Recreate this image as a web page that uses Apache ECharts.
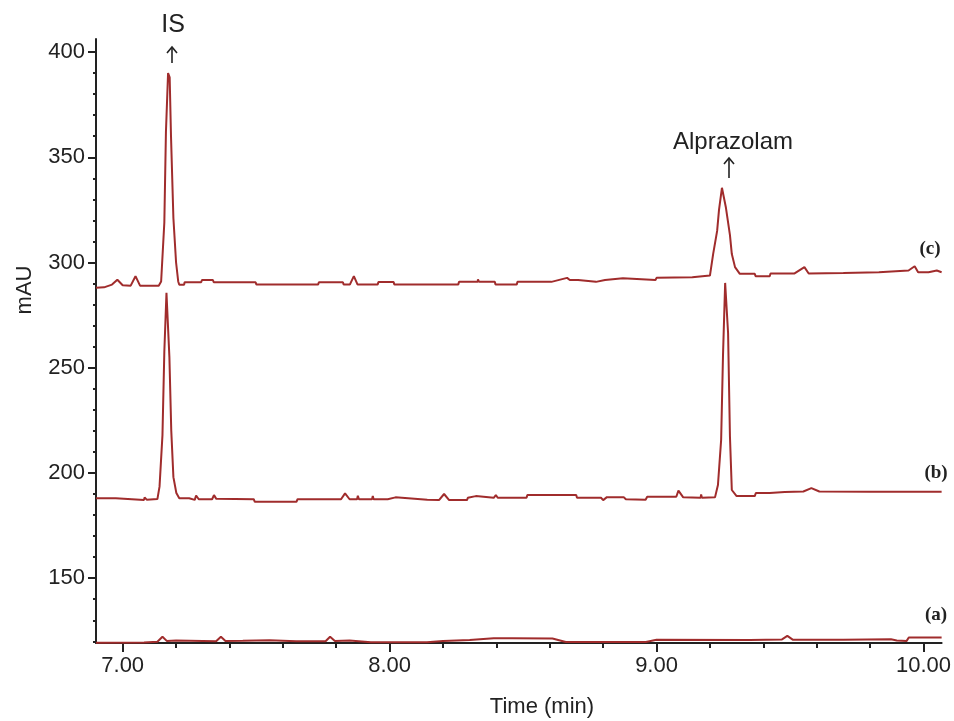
<!DOCTYPE html>
<html>
<head>
<meta charset="utf-8">
<script src="https://cdn.jsdelivr.net/npm/echarts@6/dist/echarts.min.js"></script>
<style>html,body{margin:0;padding:0;background:#fff;}#c{width:954px;height:721px;}</style>
</head>
<body>
<div id="c"></div>
<script>
// ---- data ----
const xMajor = [7, 8, 9, 10];
const xMinor = [7.2, 7.4, 7.6, 7.8, 8.2, 8.4, 8.6, 8.8, 9.2, 9.4, 9.6, 9.8];
const yMajor = [150, 200, 250, 300, 350, 400];
const yMinor = [120, 130, 140, 160, 170, 180, 190, 210, 220, 230, 240, 260, 270, 280, 290, 310, 320, 330, 340, 360, 370, 380, 390];

// trace (a) blank
const tA = [6.90, 7.08, 7.13, 7.149, 7.165, 7.20, 7.25, 7.35, 7.368, 7.385, 7.45, 7.55, 7.65, 7.76, 7.777, 7.795, 7.85, 7.93, 8.14, 8.20, 8.30, 8.39, 8.46, 8.61, 8.66, 8.96, 9.00, 9.35, 9.47, 9.49, 9.51, 9.70, 9.878, 9.90, 9.937, 9.945, 10.068];
const vA = [119.3, 119.4, 119.8, 122.2, 120.2, 120.4, 120.3, 120.0, 122.2, 120.2, 120.3, 120.5, 120.0, 120.0, 122.2, 120.2, 120.4, 119.6, 119.6, 120.2, 120.6, 121.4, 121.5, 121.3, 119.7, 119.7, 120.7, 120.6, 120.9, 122.6, 120.8, 120.7, 121.0, 120.4, 120.2, 121.8, 121.8];

// trace (b)
const tB = [6.90, 6.974, 6.98, 7.08, 7.082, 7.09, 7.13, 7.138, 7.149, 7.156, 7.164, 7.175, 7.182, 7.190, 7.201, 7.212, 7.249, 7.255, 7.270, 7.275, 7.285, 7.335, 7.342, 7.35, 7.491, 7.495, 7.651, 7.655, 7.818, 7.833, 7.85, 7.878, 7.881, 7.885, 7.934, 7.937, 7.94, 7.993, 7.996, 8.022, 8.025, 8.141, 8.185, 8.204, 8.223, 8.290, 8.293, 8.323, 8.326, 8.390, 8.398, 8.405, 8.513, 8.516, 8.699, 8.702, 8.792, 8.80, 8.814, 8.877, 8.885, 8.959, 8.965, 9.074, 9.082, 9.10, 9.165, 9.167, 9.17, 9.219, 9.230, 9.242, 9.249, 9.257, 9.268, 9.275, 9.282, 9.300, 9.368, 9.372, 9.424, 9.48, 9.55, 9.58, 9.61, 9.80, 10.068];
const vB = [188.0, 188.0, 187.2, 187.2, 188.4, 187.3, 187.6, 193.5, 218, 257.7, 285.6, 255, 220, 198, 190.5, 188, 188, 187.2, 187.2, 189.3, 187.5, 187.5, 189.5, 187.8, 187.5, 186.3, 186.3, 187.5, 187.5, 190.3, 187.5, 187.5, 189.2, 187.5, 187.5, 189, 187.5, 187.5, 188.4, 188.4, 187.5, 187.3, 187.1, 190, 187.1, 187.1, 188.2, 189, 188.2, 188.2, 189.5, 188.2, 188.2, 189.5, 189.5, 188.2, 188.2, 187.1, 188.5, 188.5, 187.5, 187.3, 188.7, 188.7, 191.6, 188.4, 188.2, 189.8, 188.2, 188.4, 194.3, 215.7, 256, 290.3, 266.5, 217.3, 191.9, 189, 189, 190.5, 190.5, 191, 191.2, 192.8, 191.2, 191.1, 191.1];

// trace (c)
const tC = [6.90, 6.93, 6.96, 6.98, 7.00, 7.03, 7.048, 7.065, 7.135, 7.144, 7.156, 7.162, 7.170, 7.176, 7.181, 7.190, 7.200, 7.208, 7.212, 7.23, 7.232, 7.294, 7.297, 7.338, 7.341, 7.498, 7.501, 7.732, 7.735, 7.825, 7.828, 7.851, 7.866, 7.88, 7.955, 7.958, 8.015, 8.018, 8.257, 8.26, 8.33, 8.331, 8.335, 8.394, 8.397, 8.476, 8.479, 8.606, 8.609, 8.665, 8.675, 8.706, 8.709, 8.773, 8.776, 8.807, 8.81, 8.874, 8.877, 8.996, 9.00, 9.134, 9.137, 9.20, 9.212, 9.227, 9.234, 9.245, 9.260, 9.275, 9.282, 9.294, 9.312, 9.368, 9.371, 9.424, 9.427, 9.517, 9.554, 9.57, 9.70, 9.833, 9.836, 9.944, 9.967, 9.98, 10.019, 10.022, 10.05, 10.068];
const vC = [288.0, 288.2, 289.5, 291.8, 289.2, 289.0, 293.5, 289.0, 289.0, 291, 319, 362, 390, 388, 360, 321, 300, 291, 289.4, 289.4, 290.6, 290.6, 291.7, 291.7, 290.6, 290.6, 289.5, 289.5, 290.6, 290.6, 289.5, 289.5, 293.5, 289.5, 289.5, 290.7, 290.7, 289.5, 289.5, 290.8, 290.8, 292, 290.8, 290.8, 289.5, 289.5, 290.8, 290.8, 291.7, 292.7, 291.7, 291.7, 290.8, 290.8, 291.7, 291.7, 292.5, 292.5, 291.7, 291.7, 292.7, 293, 293.8, 293.8, 304, 315, 325, 335.5, 326, 313, 304, 297.8, 294.6, 294.6, 293.5, 293.5, 294.8, 294.8, 297.8, 294.8, 295, 295.4, 296.2, 296.2, 298.2, 295.4, 295.4, 296.2, 296.2, 295.4];

const traceLabels = ['(a)', '(b)', '(c)'];
const peakLabels = ['IS', 'Alprazolam'];

// ---- chart ----
const zip = (t, v) => t.map((x, i) => [x, v[i]]);
const FONT = "'Liberation Sans', Arial, sans-serif";
const INK = '#222';
const RED = '#a02c2c';

const chart = echarts.init(document.getElementById('c'), null, {renderer: 'canvas'});

const lineSeries = (name, t, v) => ({
  name, type: 'line', data: zip(t, v), xAxisIndex: 0, yAxisIndex: 0,
  showSymbol: false, symbol: 'none', smooth: false, animation: false,
  lineStyle: {color: RED, width: 2}, itemStyle: {color: RED}
});

const txt = (text, x, y, font, extra) => Object.assign({
  type: 'text', x, y, silent: true,
  style: {text, font, fill: INK, align: 'center', verticalAlign: 'middle', textAlign: 'center', textVerticalAlign: 'middle'}
}, extra || {});

const arrow = (x, yTop, yBot) => ({
  type: 'group', silent: true, children: [
    {type: 'line', shape: {x1: x, y1: yTop, x2: x, y2: yBot}, style: {stroke: INK, lineWidth: 1.6}},
    {type: 'polyline', shape: {points: [[x - 5, yTop + 6], [x, yTop], [x + 5, yTop + 6]]}, style: {stroke: INK, lineWidth: 1.6, fill: null}}
  ]
});

chart.setOption({
  animation: false,
  backgroundColor: '#fff',
  grid: {left: 96, right: 6, top: 39, bottom: 78, containLabel: false},
  xAxis: [
    {
      type: 'value', min: 6.9, max: 10.068, position: 'bottom',
      axisLine: {show: true, onZero: false, lineStyle: {color: INK, width: 2}},
      axisTick: {show: true, customValues: xMajor, length: 9, lineStyle: {color: INK, width: 2}},
      axisLabel: {show: true, customValues: xMajor, formatter: v => Number(v).toFixed(2), fontSize: 22, fontFamily: FONT, color: INK, margin: 12},
      splitLine: {show: false}
    },
    {
      type: 'value', min: 6.9, max: 10.068, position: 'bottom',
      axisLine: {show: false, onZero: false},
      axisTick: {show: true, customValues: xMinor, length: 5, lineStyle: {color: INK, width: 2}},
      axisLabel: {show: false},
      splitLine: {show: false}
    }
  ],
  yAxis: [
    {
      type: 'value', min: 119.2, max: 406.2, position: 'left',
      axisLine: {show: true, onZero: false, lineStyle: {color: INK, width: 2}},
      axisTick: {show: true, customValues: yMajor, length: 8, lineStyle: {color: INK, width: 2}},
      axisLabel: {show: true, customValues: yMajor, fontSize: 22, fontFamily: FONT, color: INK, margin: 11},
      splitLine: {show: false}
    },
    {
      type: 'value', min: 119.2, max: 406.2, position: 'left',
      axisLine: {show: false, onZero: false},
      axisTick: {show: true, customValues: yMinor, length: 3, lineStyle: {color: INK, width: 2}},
      axisLabel: {show: false},
      splitLine: {show: false}
    }
  ],
  series: [
    lineSeries(traceLabels[2], tC, vC),
    lineSeries(traceLabels[1], tB, vB),
    lineSeries(traceLabels[0], tA, vA)
  ],
  graphic: [
    txt(peakLabels[0], 173, 25, '25px ' + FONT),
    arrow(172, 47, 63),
    txt(peakLabels[1], 733, 142, '24px ' + FONT),
    arrow(729, 158, 178),
    txt(traceLabels[2], 930, 249, 'bold 19px "Liberation Serif", "Times New Roman", serif'),
    txt(traceLabels[1], 936, 473, 'bold 19px "Liberation Serif", "Times New Roman", serif'),
    txt(traceLabels[0], 936, 615, 'bold 19px "Liberation Serif", "Times New Roman", serif'),
    txt('Time (min)', 542, 707, '22px ' + FONT),
    txt('mAU', 25, 290, '22px ' + FONT, {rotation: Math.PI / 2})
  ]
});
</script>
</body>
</html>
